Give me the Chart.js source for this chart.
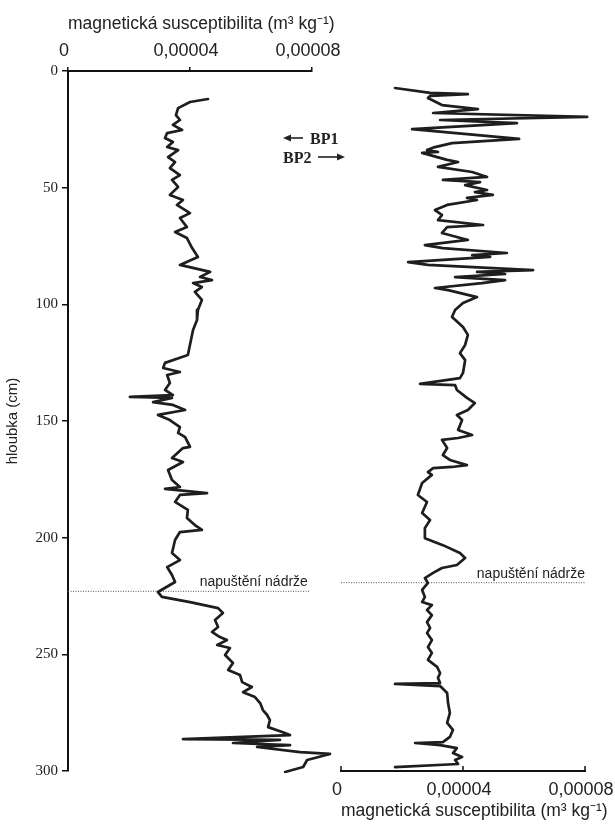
<!DOCTYPE html>
<html><head><meta charset="utf-8">
<script src="https://cdn.jsdelivr.net/npm/chart.js@4.4.0/dist/chart.umd.min.js"></script>
<style>
html,body{margin:0;padding:0;background:#fff;}
#wrap{position:relative;width:615px;height:827px;overflow:hidden;background:#fff;}
canvas{position:absolute;top:0;}
#c1{left:0;} #c2{left:330px;}
</style></head><body>
<div id="wrap"><canvas id="c1" width="360" height="827"></canvas><canvas id="c2" width="285" height="827"></canvas></div>
<script>
// ---- data ----
const depthTicks = [0, 50, 100, 150, 200, 250, 300];
const susTicks = [0, 0.00004, 0.00008];
const susTickLabels = ['0', '0,00004', '0,00008'];
const axisTitle = 'magnetická susceptibilita (m³ kg⁻¹)';
const depthTitle = 'hloubka (cm)';
const profileNames = ['BP1', 'BP2'];
const fillLabel = 'napuštění nádrže';
const fillDepthBP1 = 223.0;
const fillDepthBP2 = 219.3;
const fillEndBP1 = 7.93e-5;
const fillEndBP2 = 8.0e-5;

const bp1Depth = [12.0,13.3,15.9,18.9,21.0,23.1,25.3,26.6,28.7,30.4,
  32.6,33.9,36.9,39.0,41.6,44.6,46.7,49.7,53.1,55.3,
  57.4,60.9,63.0,66.9,69.0,71.6,75.9,79.7,83.1,86.1,
  88.3,89.6,90.9,92.6,94.7,98.1,102.4,106.7,111.0,121.7,
  122.6,125.1,127.3,129.0,130.3,133.7,136.7,138.9,139.7,140.1,
  141.9,143.1,145.3,147.4,149.6,152.6,155.1,156.9,161.1,161.6,
  165.9,167.6,171.0,175.3,178.3,179.1,180.9,181.7,184.7,188.1,
  191.6,194.6,196.7,197.6,201.0,206.6,209.6,212.6,216.0,219.0,
  223.3,225.4,227.6,230.2,232.3,235.3,238.3,240.4,242.6,243.9,
  246.0,247.3,250.3,253.7,256.7,258.9,261.9,264.0,266.2,268.3,
  270.9,273.9,276.0,278.2,281.2,283.3,284.6,286.3,286.7,288.0,
  288.9,289.7,291.9,292.7,295.3,298.3,300.4];
const bp1Sus = [4.59e-5,4.00e-5,3.61e-5,3.54e-5,3.67e-5,3.44e-5,3.74e-5,3.25e-5,3.18e-5,3.44e-5,
  3.25e-5,3.61e-5,3.28e-5,3.51e-5,3.34e-5,3.67e-5,3.41e-5,3.61e-5,3.34e-5,3.77e-5,
  3.57e-5,4.00e-5,3.67e-5,3.90e-5,3.51e-5,3.90e-5,4.07e-5,4.26e-5,3.67e-5,4.66e-5,
  4.33e-5,4.72e-5,4.10e-5,4.39e-5,4.16e-5,4.39e-5,4.26e-5,4.23e-5,4.10e-5,3.93e-5,
  3.74e-5,3.18e-5,3.12e-5,3.67e-5,3.25e-5,3.34e-5,3.18e-5,3.44e-5,2.03e-5,3.41e-5,
  2.79e-5,3.44e-5,3.84e-5,2.95e-5,3.34e-5,3.67e-5,3.61e-5,3.84e-5,4.00e-5,3.77e-5,
  3.41e-5,3.77e-5,3.28e-5,3.41e-5,3.67e-5,3.18e-5,4.56e-5,3.67e-5,3.51e-5,3.93e-5,
  3.90e-5,4.16e-5,4.39e-5,3.67e-5,3.51e-5,3.41e-5,3.67e-5,3.25e-5,3.41e-5,3.51e-5,
  2.95e-5,3.08e-5,4.00e-5,4.92e-5,5.08e-5,4.82e-5,4.92e-5,4.72e-5,4.98e-5,5.21e-5,
  4.89e-5,5.31e-5,5.15e-5,5.41e-5,5.25e-5,5.64e-5,5.71e-5,6.03e-5,5.74e-5,6.13e-5,
  6.30e-5,6.39e-5,6.53e-5,6.62e-5,6.56e-5,7.02e-5,7.28e-5,3.77e-5,6.95e-5,5.41e-5,
  7.28e-5,6.20e-5,7.61e-5,8.59e-5,7.84e-5,7.71e-5,7.12e-5];

const bp2Depth = [7.3,9.4,9.9,10.7,11.6,14.6,16.3,18.0,19.7,21.0,
  22.3,24.9,29.1,30.9,32.6,33.9,34.7,35.1,38.1,39.0,
  41.1,43.3,45.4,46.7,47.6,48.9,51.0,51.9,53.1,54.4,
  55.3,57.4,59.6,61.7,63.9,66.0,66.9,69.4,72.4,74.6,
  75.9,78.0,78.9,79.7,81.9,83.1,85.3,86.1,87.0,88.3,
  89.6,90.9,93.0,93.9,96.9,99.4,102.4,105.4,109.7,113.1,
  117.4,120.9,123.9,129.4,131.6,134.1,134.6,136.7,140.1,142.3,
  145.3,147.4,149.6,153.9,156.0,157.3,158.1,161.6,164.6,166.7,
  168.9,169.7,170.2,171.9,173.1,176.6,181.7,184.7,189.4,192.4,
  195.9,200.2,203.2,206.6,208.7,211.7,213.0,215.1,217.3,219.4,
  222.4,225.4,227.6,228.9,231.0,233.2,236.2,238.7,240.9,243.9,
  246.9,249.4,252.4,255.4,258.0,260.1,262.3,262.7,263.6,266.6,
  270.9,275.1,279.4,282.4,285.4,287.6,288.0,288.9,290.2,292.3,
  294.0,295.3,297.0,298.3];
const bp2Sus = [1.77e-5,2.92e-5,4.16e-5,2.92e-5,2.85e-5,3.31e-5,4.49e-5,3.02e-5,8.07e-5,3.25e-5,
  5.77e-5,2.33e-5,5.84e-5,3.64e-5,3.08e-5,2.82e-5,3.18e-5,2.66e-5,3.48e-5,3.84e-5,
  3.18e-5,4.30e-5,4.79e-5,3.34e-5,4.56e-5,4.07e-5,4.79e-5,4.39e-5,4.98e-5,4.13e-5,
  4.46e-5,3.48e-5,3.08e-5,3.31e-5,3.18e-5,4.66e-5,3.48e-5,3.31e-5,4.16e-5,2.75e-5,
  3.34e-5,5.44e-5,4.30e-5,4.89e-5,2.20e-5,2.85e-5,6.30e-5,4.46e-5,5.38e-5,3.74e-5,
  5.38e-5,4.62e-5,3.08e-5,3.51e-5,4.46e-5,4.00e-5,3.74e-5,3.64e-5,4.00e-5,4.16e-5,
  4.07e-5,3.90e-5,4.07e-5,4.00e-5,3.90e-5,2.59e-5,3.74e-5,3.80e-5,4.13e-5,4.39e-5,
  4.16e-5,3.80e-5,3.97e-5,3.84e-5,4.30e-5,3.84e-5,3.31e-5,3.48e-5,3.34e-5,3.57e-5,
  4.13e-5,3.64e-5,3.02e-5,2.85e-5,2.98e-5,2.66e-5,2.52e-5,2.82e-5,2.66e-5,2.92e-5,
  2.75e-5,2.75e-5,3.34e-5,3.90e-5,4.07e-5,3.80e-5,3.31e-5,3.02e-5,2.75e-5,2.85e-5,
  2.66e-5,2.75e-5,2.66e-5,2.98e-5,2.82e-5,2.98e-5,2.82e-5,2.92e-5,2.82e-5,2.98e-5,
  2.85e-5,2.98e-5,2.85e-5,3.15e-5,3.25e-5,3.18e-5,3.25e-5,1.77e-5,3.25e-5,3.48e-5,
  3.51e-5,3.57e-5,3.48e-5,3.67e-5,3.57e-5,3.34e-5,2.43e-5,3.25e-5,3.80e-5,3.67e-5,
  3.97e-5,3.74e-5,3.84e-5,1.77e-5];

// ---- styling ----
const SANS = '"Liberation Sans", Arial, sans-serif';
const SERIF = '"Liberation Serif", "Times New Roman", serif';
const INK = '#1e1e1e';
Chart.defaults.font.family = SANS;
Chart.defaults.color = '#222';

function profileDataset(name, depth, sus) {
  return { label: name, data: depth.map((d, i) => ({ x: sus[i], y: d })),
    borderColor: INK, borderWidth: 2.7, pointRadius: 0, tension: 0, fill: false,
    clip: false, borderJoinStyle: 'round', borderCapStyle: 'round' };
}
function fillDataset(depth, xEnd) {
  return { label: 'fill', data: [{ x: 0, y: depth }, { x: xEnd, y: depth }],
    borderColor: '#555', borderWidth: 1, borderDash: [1, 1.5], pointRadius: 0, clip: false };
}
const susTickBuilder = s => { s.ticks = susTicks.map(v => ({ value: v })); };
const depthTickBuilder = s => { s.ticks = depthTicks.map(v => ({ value: v })); };

function arrow(ctx, x0, x1, y) {
  const dir = Math.sign(x1 - x0);
  ctx.beginPath();
  ctx.moveTo(x0, y); ctx.lineTo(x1 - dir * 6, y);
  ctx.lineWidth = 1.6; ctx.stroke();
  ctx.beginPath();
  ctx.moveTo(x1, y); ctx.lineTo(x1 - dir * 8, y - 3.5); ctx.lineTo(x1 - dir * 8, y + 3.5); ctx.closePath();
  ctx.fill();
}
function drawAxisTitle(ctx, xScale, baselineY) {
  ctx.save();
  ctx.fillStyle = '#222';
  ctx.font = '17.5px ' + SANS;
  ctx.textAlign = 'left';
  ctx.textBaseline = 'alphabetic';
  ctx.fillText(axisTitle, xScale.getPixelForValue(susTicks[0]), baselineY);
  ctx.restore();
}

const leftDecor = {
  id: 'leftDecor',
  afterDraw(chart) {
    const { ctx, scales: { x, y } } = chart;
    drawAxisTitle(ctx, x, 29);
    ctx.save();
    ctx.fillStyle = '#222';
    ctx.strokeStyle = '#222';
    ctx.font = '14px ' + SANS;
    ctx.textAlign = 'right';
    ctx.textBaseline = 'alphabetic';
    ctx.fillText(fillLabel, x.getPixelForValue(fillEndBP1) - 2, y.getPixelForValue(fillDepthBP1) - 5.5);
    ctx.textAlign = 'left';
    ctx.font = 'bold 16px ' + SERIF;
    ctx.fillText(profileNames[0], 310, 144);
    arrow(ctx, 303, 283, 138);
    ctx.fillText(profileNames[1], 283, 163);
    arrow(ctx, 318, 345, 157);
    ctx.restore();
  }
};
const rightDecor = {
  id: 'rightDecor',
  afterDraw(chart) {
    const { ctx, chartArea, scales: { x, y } } = chart;
    drawAxisTitle(ctx, x, 816);
    ctx.save();
    ctx.strokeStyle = '#111';
    ctx.lineWidth = 1.5;
    susTicks.forEach(v => {
      const px = x.getPixelForValue(v);
      ctx.beginPath(); ctx.moveTo(px, chartArea.bottom); ctx.lineTo(px, chartArea.bottom - 5); ctx.stroke();
    });
    ctx.fillStyle = '#222';
    ctx.font = '14px ' + SANS;
    ctx.textAlign = 'right';
    ctx.fillText(fillLabel, x.getPixelForValue(fillEndBP2), y.getPixelForValue(fillDepthBP2) - 4.5);
    ctx.restore();
  }
};

new Chart(document.getElementById('c1'), {
  type: 'line',
  data: { datasets: [profileDataset(profileNames[0], bp1Depth, bp1Sus), fillDataset(fillDepthBP1, fillEndBP1)] },
  options: {
    responsive: false, animation: false, devicePixelRatio: 1,
    layout: { padding: { left: 0, top: 0, right: 48, bottom: 56 } },
    plugins: { legend: { display: false }, tooltip: { enabled: false } },
    scales: {
      x: {
        type: 'linear', position: 'top', min: 0, max: 0.00008,
        afterBuildTicks: susTickBuilder,
        ticks: { callback: (v, i) => susTickLabels[i], font: { size: 18 }, color: '#222', padding: 5, maxRotation: 0, autoSkip: false, labelOffset: -4 },
        grid: { display: true, drawOnChartArea: false, drawTicks: true, tickLength: 4, color: '#111', lineWidth: 1.5 },
        border: { display: true, color: '#111', width: 2 },
        title: { display: false },
        afterFit: s => { s.height = 71; s.paddingLeft = 0; s.paddingRight = 0; }
      },
      y: {
        type: 'linear', reverse: true, min: 0, max: 300,
        afterBuildTicks: depthTickBuilder,
        ticks: { font: { family: SERIF, size: 15 }, color: '#222', padding: 4, autoSkip: false },
        grid: { display: true, drawOnChartArea: false, drawTicks: true, tickLength: 6, color: '#111', lineWidth: 1.5 },
        border: { display: true, color: '#111', width: 2 },
        title: { display: true, text: depthTitle, font: { size: 15 }, color: '#222', padding: { top: 4, bottom: 0 } },
        afterFit: s => { s.width = 68; s.paddingTop = 0; s.paddingBottom = 0; }
      }
    }
  },
  plugins: [leftDecor]
});

new Chart(document.getElementById('c2'), {
  type: 'line',
  data: { datasets: [profileDataset(profileNames[1], bp2Depth, bp2Sus), fillDataset(fillDepthBP2, fillEndBP2)] },
  options: {
    responsive: false, animation: false, devicePixelRatio: 1,
    layout: { padding: { left: 11, top: 71, right: 30, bottom: 0 } },
    plugins: { legend: { display: false }, tooltip: { enabled: false } },
    scales: {
      x: {
        type: 'linear', position: 'bottom', min: 0, max: 0.00008,
        afterBuildTicks: susTickBuilder,
        ticks: { callback: (v, i) => susTickLabels[i], font: { size: 18 }, color: '#222', padding: 8, maxRotation: 0, autoSkip: false, labelOffset: -4 },
        grid: { display: true, drawOnChartArea: false, drawTicks: false },
        border: { display: true, color: '#111', width: 2 },
        title: { display: false },
        afterFit: s => { s.height = 56; s.paddingLeft = 0; s.paddingRight = 0; }
      },
      y: { type: 'linear', reverse: true, min: 0, max: 300, display: false }
    }
  },
  plugins: [rightDecor]
});
</script>
</body></html>
